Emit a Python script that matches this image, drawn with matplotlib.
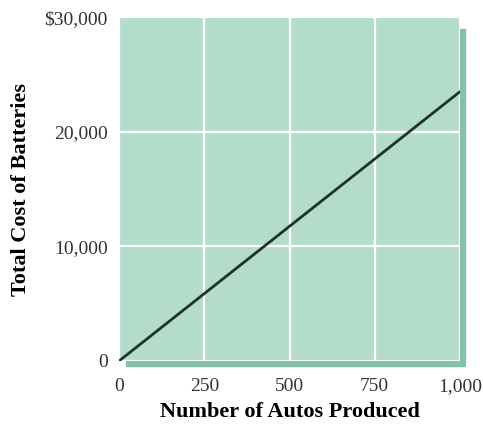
import matplotlib.pyplot as plt
from matplotlib.patches import Rectangle
from matplotlib.ticker import FuncFormatter

# data
autos = [0, 1000]
cost = [0, 23500]
x_ticks = [0, 250, 500, 750, 1000]
y_ticks = [0, 10000, 20000, 30000]

plt.rcParams['font.family'] = ['Liberation Serif', 'DejaVu Serif']

bg = '#b4dcca'
shadow = '#86c0a8'

fig = plt.figure(figsize=(4.83, 4.24), dpi=100)
ax = fig.add_axes([0.2464, 0.1486, 0.706, 0.811])

ax.set_facecolor(bg)
ax.plot(autos, cost, color='#1e3329', lw=2, solid_capstyle='round', zorder=3)

ax.set_xlim(0, 1000)
ax.set_ylim(0, 30000)
ax.set_xticks(x_ticks)
ax.set_yticks(y_ticks)
ax.xaxis.set_major_formatter(FuncFormatter(lambda v, p: f"{int(v):,}"))
ax.yaxis.set_major_formatter(
    FuncFormatter(lambda v, p: f"${int(v):,}" if v == 30000 else f"{int(v):,}"))
ax.tick_params(length=0, labelsize=14, colors='#333333')
ax.tick_params(axis='x', pad=12)
ax.tick_params(axis='y', pad=8)

# white grid
ax.grid(True, color='white', lw=1.6)
ax.set_axisbelow(True)
for s in ax.spines.values():
    s.set_visible(False)

# drop shadow on right and bottom edges
dx = 5 / (483 * 0.706)
dy = 5 / (424 * 0.811)
ax.add_patch(Rectangle((1, -dy), dx, 1 - 0.02, transform=ax.transAxes,
                       color=shadow, clip_on=False, zorder=0))
ax.add_patch(Rectangle((0.02, -dy), 1 - 0.02, dy, transform=ax.transAxes,
                       color=shadow, clip_on=False, zorder=0))

ax.set_xlabel('Number of Autos Produced', fontsize=16, fontweight='bold', labelpad=5)
ax.set_ylabel('Total Cost of Batteries', fontsize=16, fontweight='bold', labelpad=10)

fig.savefig('out.png', dpi=100, facecolor='white')
